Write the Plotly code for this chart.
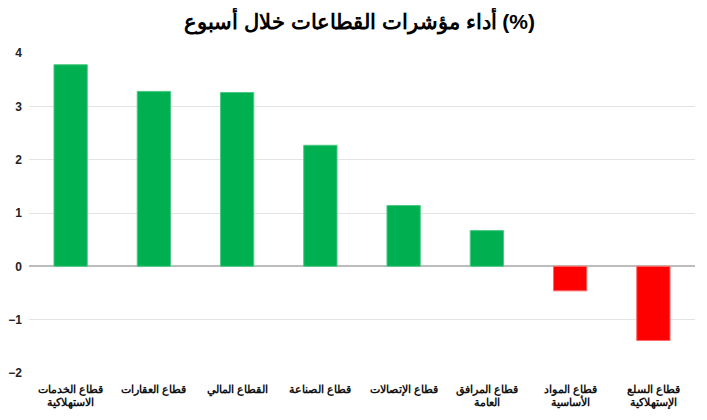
import plotly.graph_objects as go

# sector names (left to right as in the chart)
sectors = [
    "قطاع الخدمات<br>الاستهلاكية",
    "قطاع العقارات",
    "القطاع المالي",
    "قطاع الصناعة",
    "قطاع الإتصالات",
    "قطاع المرافق<br>العامة",
    "قطاع المواد<br>الأساسية",
    "قطاع السلع<br>الإستهلاكية",
]
weekly_change = [3.78, 3.28, 3.26, 2.27, 1.14, 0.67, -0.46, -1.39]

colors = ["#00B050" if v >= 0 else "#FF0000" for v in weekly_change]
edges = ["#4cc985" if v >= 0 else "#ff6b6b" for v in weekly_change]

fig = go.Figure(go.Bar(
    x=sectors,
    y=weekly_change,
    marker=dict(color=colors, line=dict(color=edges, width=1)),
))

# page body adds 8px, so the figure is a bit smaller than the window
fig.update_layout(
    width=699, height=412,
    margin=dict(l=21, r=12, t=45, b=47),
    title=dict(text="<b>أداء مؤشرات القطاعات خلال أسبوع (%)</b>",
               x=0.503, y=0.966, xanchor="center", yanchor="middle",
               font=dict(family="Liberation Sans", size=21, color="#000")),
    plot_bgcolor="white", paper_bgcolor="white",
    bargap=0.6,
    showlegend=False,
    font=dict(family="Liberation Sans", color="#222"),
)
fig.update_yaxes(range=[-2, 4], dtick=1, showgrid=True, gridcolor="#e3e3e3",
                 zeroline=True, zerolinecolor="#bdbdbd", zerolinewidth=1.5,
                 tickfont=dict(size=12, color="#222"), automargin=False,
                 tickprefix="<b>", ticksuffix="</b>", ticks="", ticklabelstandoff=6)
fig.update_xaxes(showgrid=False, showline=False, ticks="", automargin=False,
                 tickfont=dict(size=10.5, color="#111"), tickangle=0,
                 ticklabelstandoff=8)
fig.update_xaxes(ticktext=["<b>" + s.replace("<br>", "</b><br><b>") + "</b>" for s in sectors],
                 tickvals=sectors)

fig.write_html("out.html")
